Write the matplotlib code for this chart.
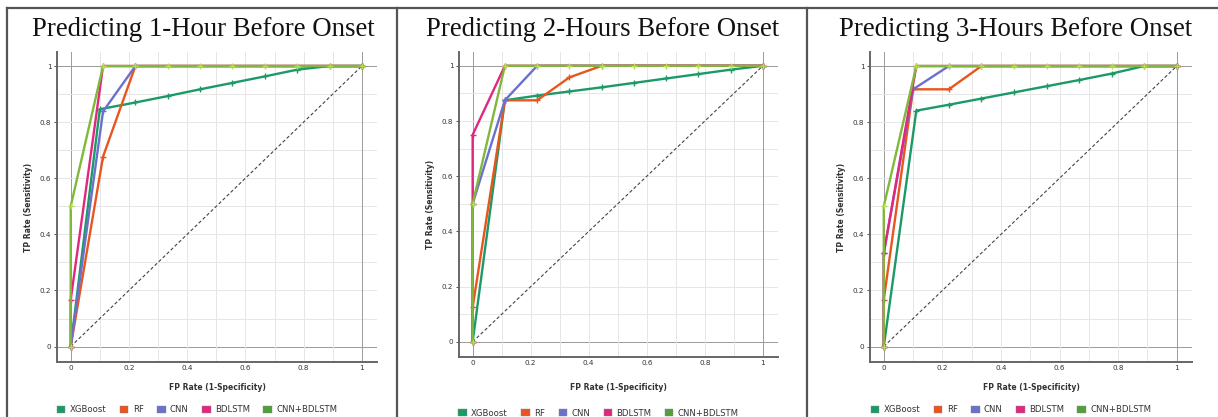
import numpy as np
import matplotlib.pyplot as plt
from matplotlib.patches import Patch
from matplotlib.lines import Line2D

# ROC points per model, one dict per prediction horizon
titles = ['Predicting 1-Hour Before Onset',
          'Predicting 2-Hours Before Onset',
          'Predicting 3-Hours Before Onset']
models = ['XGBoost', 'RF', 'CNN', 'BDLSTM', 'CNN+BDLSTM']
colors = ['#1b9a68', '#e8561e', '#6a70cc', '#e2277f', '#7fb83a']
swatch_colors = ['#1b9a68', '#e8561e', '#6a70cc', '#e2277f', '#4f9f3a']

ninths = [0, 1/9, 2/9, 3/9, 4/9, 5/9, 6/9, 7/9, 8/9, 1]

fpr_1h = {
    'XGBoost': [0, 0.10, 2/9, 3/9, 4/9, 5/9, 6/9, 7/9, 8/9, 1],
    'RF': [0, 1/9, 2/9, 1],
    'CNN': [0, 1/9, 2/9, 1],
    'BDLSTM': [0, 0, 1/9, 1],
    'CNN+BDLSTM': [0, 0] + ninths[1:],
}
tpr_1h = {
    'XGBoost': [0, 0.846, 0.870, 0.893, 0.917, 0.940, 0.963, 0.987, 1, 1],
    'RF': [0, 0.677, 1, 1],
    'CNN': [0, 0.838, 1, 1],
    'BDLSTM': [0, 0.167, 1, 1],
    'CNN+BDLSTM': [0, 0.5] + [1] * 9,
}

fpr_2h = {
    'XGBoost': [0] + ninths[1:],
    'RF': [0, 0, 1/9, 2/9, 3/9, 4/9, 1],
    'CNN': [0, 0, 1/9, 2/9, 1],
    'BDLSTM': [0, 0, 0, 1/9, 1],
    'CNN+BDLSTM': [0, 0] + ninths[1:],
}
tpr_2h = {
    'XGBoost': [0, 0.875, 0.892, 0.907, 0.922, 0.938, 0.954, 0.970, 0.986, 1],
    'RF': [0, 0.125, 0.875, 0.875, 0.958, 1, 1],
    'CNN': [0, 0.5, 0.875, 1, 1],
    'BDLSTM': [0, 0.5, 0.75, 1, 1],
    'CNN+BDLSTM': [0, 0.5] + [1] * 9,
}

fpr_3h = {
    'XGBoost': [0] + ninths[1:],
    'RF': [0, 0, 0.10, 2/9, 3/9, 1],
    'CNN': [0, 0, 0.10, 2/9, 1],
    'BDLSTM': [0, 0, 1/9, 1],
    'CNN+BDLSTM': [0, 0] + ninths[1:],
}
tpr_3h = {
    'XGBoost': [0, 0.841, 0.862, 0.884, 0.906, 0.928, 0.950, 0.973, 1, 1],
    'RF': [0, 0.167, 0.917, 0.917, 1, 1],
    'CNN': [0, 0.333, 0.917, 1, 1],
    'BDLSTM': [0, 0.333, 1, 1],
    'CNN+BDLSTM': [0, 0.5] + [1] * 9,
}

panels = [(fpr_1h, tpr_1h), (fpr_2h, tpr_2h), (fpr_3h, tpr_3h)]

W, H = 1218, 417
fig = plt.figure(figsize=(W / 100, H / 100), dpi=100)

# axes boxes in pixels: left, top, right, bottom
boxes = [(57, 52, 377, 362), (459, 52, 778, 357), (870, 52, 1192, 362)]
title_x = [203, 603, 1016]
legend_y = [410, 413, 410]

for i, ((fpr, tpr), (l, t, r, b)) in enumerate(zip(panels, boxes)):
    ax = fig.add_axes([l / W, 1 - b / H, (r - l) / W, (b - t) / H])
    ax.set_xlim(-0.047, 1.052)
    ax.set_ylim(-0.055, 1.05)

    for v in np.arange(0, 1.01, 0.1):
        c = '#9a9a9a' if v in (0, 1) else '#e6e6e6'
        ax.axvline(v, color=c, lw=0.7, zorder=0)
        ax.axhline(v, color=c, lw=0.7, zorder=0)

    ax.plot([0, 1], [0, 1], ls=(0, (3, 2)), color='#444444', lw=0.8, zorder=1)

    for m, c in zip(models, colors):
        mc = '#b3df48' if m == 'CNN+BDLSTM' else c
        ax.plot(fpr[m], tpr[m], color=c, lw=1.7, marker='+', ms=4,
                mec=mc, mew=1.0, zorder=2)

    ax.set_xticks([0, 0.2, 0.4, 0.6, 0.8, 1])
    ax.set_xticklabels(['0', '0.2', '0.4', '0.6', '0.8', '1'])
    ax.set_yticks([0, 0.2, 0.4, 0.6, 0.8, 1])
    ax.set_yticklabels(['0', '0.2', '0.4', '0.6', '0.8', '1'])
    ax.tick_params(labelsize=5.2, colors='#333333', length=2, width=0.6, pad=2)
    ax.tick_params(axis='x', length=0)

    for s in ('top', 'right'):
        ax.spines[s].set_visible(False)
    for s in ('left', 'bottom'):
        ax.spines[s].set_color('#666666')
        ax.spines[s].set_linewidth(1.4)

    ax.set_xlabel('FP Rate (1-Specificity)', fontsize=5.5, fontweight='bold',
                  color='#333333')
    ax.set_ylabel('TP Rate (Sensitivity)', fontsize=5.5, fontweight='bold',
                  color='#333333')
    ax.xaxis.set_label_coords(0.5, (b - 383) / (b - t))
    ax.yaxis.set_label_coords(-24 / (r - l), 0.5)

    fig.text(title_x[i] / W, 1 - 30 / H, titles[i], ha='center', va='center',
             fontsize=19.3, family='Liberation Serif', color='#111111')

    handles = [Patch(facecolor=sc, edgecolor='#888888', lw=0.3) for sc in swatch_colors]
    leg = fig.legend(handles, models, loc='center', ncol=5,
                     bbox_to_anchor=(((l + r) / 2 - 20) / W, 1 - legend_y[i] / H),
                     frameon=False, fontsize=6.1, handlelength=1.0, handleheight=1.0,
                     handletextpad=0.5, columnspacing=1.6)
    for txt in leg.get_texts():
        txt.set_color('#333333')

# panel frame lines
frame = dict(color='#555555', lw=1.6, transform=fig.transFigure)
fig.add_artist(Line2D([7 / W, 1], [1 - 8 / H] * 2, **frame))
for x in (7, 397, 807):
    fig.add_artist(Line2D([x / W] * 2, [0, 1 - 8 / H], **frame))

fig.savefig('out.png', dpi=100)
